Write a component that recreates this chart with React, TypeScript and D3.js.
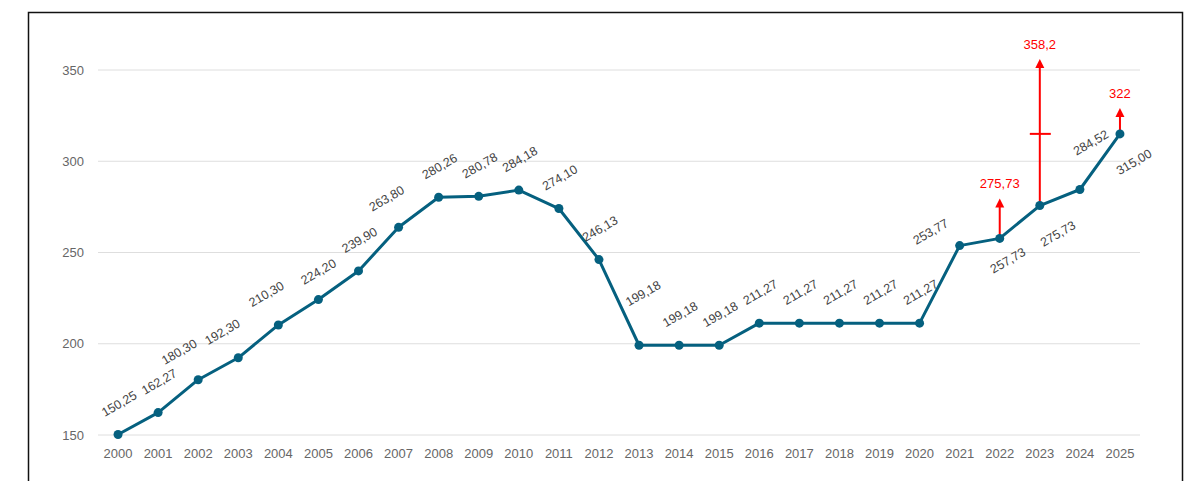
import { scalePoint, scaleLinear, line } from 'd3';

// Chart data
const years = [
    '2000', '2001', '2002', '2003', '2004', '2005', '2006', '2007', '2008',
    '2009', '2010', '2011', '2012', '2013', '2014', '2015', '2016', '2017',
    '2018', '2019', '2020', '2021', '2022', '2023', '2024', '2025',
];
const values = [
    150.25, 162.27, 180.3, 192.3, 210.3, 224.2, 239.9, 263.8, 280.26, 280.78,
    284.18, 274.1, 246.13, 199.18, 199.18, 199.18, 211.27, 211.27, 211.27,
    211.27, 211.27, 253.77, 257.73, 275.73, 284.52, 315.0,
];
const yTicks = [150, 200, 250, 300, 350];

// Red annotations: year, target value, optional mid marker
const arrowYears = ['2022', '2023', '2025'];
const arrowTargets = [275.73, 358.2, 322];
const arrowMarks = [null, 315, null];

// Layout tweaks: arrow tip shift (px) and value label nudges (px)
const arrowTipShift = [-7, 4, -13];
const labelNudge: Record<string, [number, number]> = {
    '2002': [-19, -28],
    '2003': [-16, -26],
    '2004': [-12, -31],
    '2005': [0, -28],
    '2007': [-12, -29],
    '2013': [4, -52],
    '2021': [-29, -14],
    '2022': [8, 22],
    '2023': [18, 28],
    '2024': [11, -47],
    '2025': [14, 28],
};

const fmt = (v: number) => v.toFixed(2).replace('.', ',');
const fmtShort = (v: number) => String(v).replace('.', ',');

function App() {
    const width = 1192;
    const height = 481;
    const left = 98;
    const right = 1140;

    const x = scalePoint<string>().domain(years).range([left, right]).padding(0.5);
    const y = scaleLinear().domain([150, 350]).range([435, 70]);

    const path = line<number>()
        .x((d, i) => x(years[i]) as number)
        .y((d) => y(d))(values);

    const font = '"Liberation Sans", Arial, sans-serif';

    return (
        <svg
            width={width}
            height={height}
            style={{ position: 'absolute', left: 0, top: 0, fontFamily: font }}
        >
            <rect x={0} y={0} width={width} height={height} fill="#fff" />
            {/* Frame */}
            <rect
                x={28.5}
                y={12.5}
                width={1154}
                height={500}
                fill="none"
                stroke="#111"
                strokeWidth={1.5}
            />

            {/* Grid and y ticks */}
            {yTicks.map((t) => (
                <g key={t}>
                    <line x1={left} x2={right} y1={y(t)} y2={y(t)} stroke="#dedede" strokeWidth={1} />
                    <text x={84} y={y(t)} dy="0.35em" textAnchor="end" fontSize={13} fill="#666">
                        {t}
                    </text>
                </g>
            ))}

            {/* X labels */}
            {years.map((yr) => (
                <text key={yr} x={x(yr)} y={453} dy="0.35em" textAnchor="middle" fontSize={13} fill="#666">
                    {yr}
                </text>
            ))}

            {/* Red arrows */}
            {arrowYears.map((yr, i) => {
                const vi = years.indexOf(yr);
                const cx = x(yr) as number;
                const y0 = y(values[vi]);
                const tip = y(arrowTargets[i]) + arrowTipShift[i];
                const mark = arrowMarks[i];
                return (
                    <g key={yr}>
                        <line x1={cx} x2={cx} y1={y0} y2={tip + 8} stroke="#ff0000" strokeWidth={2} />
                        <path
                            d={`M${cx},${tip} L${cx - 4.5},${tip + 9} L${cx + 4.5},${tip + 9} Z`}
                            fill="#ff0000"
                        />
                        {mark !== null && (
                            <line x1={cx - 10} x2={cx + 11} y1={y(mark)} y2={y(mark)} stroke="#ff0000" strokeWidth={2} />
                        )}
                        <text x={cx} y={tip - 15} dy="0.35em" textAnchor="middle" fontSize={13} fill="#ff0000">
                            {fmtShort(arrowTargets[i])}
                        </text>
                    </g>
                );
            })}

            {/* Line and points */}
            <path d={path || ''} fill="none" stroke="#05607f" strokeWidth={3} strokeLinejoin="round" />
            {values.map((v, i) => (
                <circle key={i} cx={x(years[i])} cy={y(v)} r={4.5} fill="#05607f" />
            ))}

            {/* Value labels */}
            {values.map((v, i) => {
                const [dx, dy] = labelNudge[years[i]] || [1, -31];
                const lx = (x(years[i]) as number) + dx;
                const ly = y(v) + dy;
                return (
                    <text
                        key={i}
                        x={lx}
                        y={ly}
                        dy="0.35em"
                        textAnchor="middle"
                        fontSize={12.5}
                        fill="#444"
                        transform={`rotate(-30 ${lx} ${ly})`}
                    >
                        {fmt(v)}
                    </text>
                );
            })}
        </svg>
    );
}

export default App;
